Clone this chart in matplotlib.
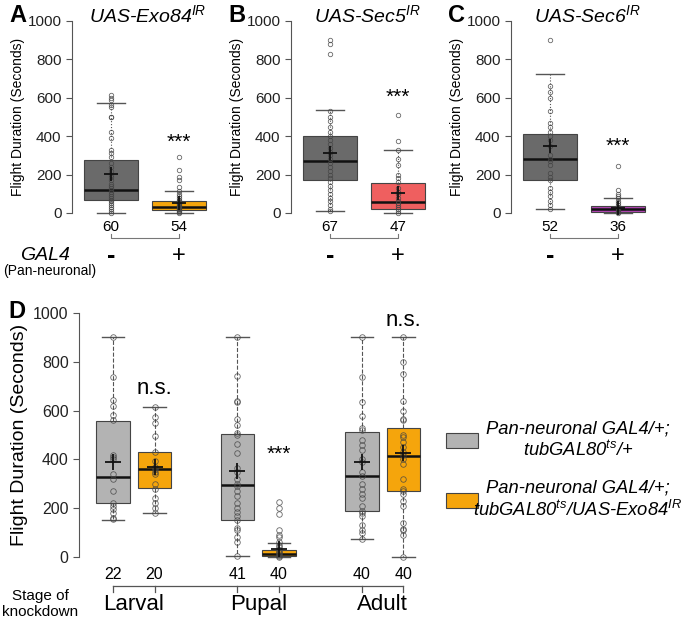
import matplotlib
matplotlib.use("Agg")
import matplotlib.pyplot as plt
from matplotlib.patches import Rectangle

plt.rcParams['font.family'] = ['Liberation Sans', 'DejaVu Sans']
plt.rcParams['mathtext.fontset'] = 'custom'
plt.rcParams['mathtext.it'] = 'Liberation Sans:italic'
plt.rcParams['mathtext.rm'] = 'Liberation Sans'

# ---------------- data ----------------
# Panels A-C: (-) control, (+) knockdown; box stats: q1, med, q3, whislo, whishi, mean
titles_abc = ["UAS-Exo84$^{IR}$", "UAS-Sec5$^{IR}$", "UAS-Sec6$^{IR}$"]
letters_abc = ["A", "B", "C"]
counts_abc = [[60, 54], [67, 47], [52, 36]]
colors_abc = ["#f5a50c", "#ef5f5f", "#b144b4"]
ctrl_color = "#6a6a6a"
sig_abc = ["***", "***", "***"]
sig_y_abc = [370, 600, 345]

stats_A = [dict(q1=69, med=119, q3=275, whislo=0, whishi=575, mean=203),
           dict(q1=14, med=33, q3=60, whislo=0, whishi=117, mean=53)]
stats_B = [dict(q1=171, med=269, q3=401, whislo=9, whishi=538, mean=311),
           dict(q1=19, med=58, q3=154, whislo=0, whishi=326, mean=106)]
stats_C = [dict(q1=174, med=282, q3=414, whislo=19, whishi=723, mean=348),
           dict(q1=7, med=21, q3=35, whislo=0, whishi=80, mean=26)]

pts_A = [[615, 600, 590, 560, 550, 500, 500, 420, 390, 330, 310, 290, 260, 240, 220,
          200, 185, 170, 150, 140, 130, 120, 110, 100, 90, 80, 70, 60, 50, 40, 30, 20, 10, 0],
         [293, 222, 187, 170, 135, 117, 100, 90, 80, 70, 60, 55, 50, 45, 40, 35, 30, 25,
          20, 15, 10, 5, 0]]
pts_B = [[900, 880, 830, 530, 500, 480, 450, 420, 400, 380, 360, 340, 320, 300, 280,
          260, 240, 220, 200, 180, 160, 140, 120, 100, 80, 60, 40, 20, 9],
         [508, 377, 326, 280, 250, 200, 180, 160, 130, 110, 100, 80, 60, 50, 40, 30, 20,
          10, 0]]
pts_C = [[900, 660, 630, 600, 530, 470, 450, 420, 400, 380, 350, 300, 280, 270, 250,
          210, 190, 170, 130, 110, 90, 60, 40, 19],
         [243, 120, 100, 90, 80, 60, 50, 40, 30, 20, 10, 5, 0]]

# Panel D
stages = ["Larval", "Pupal", "Adult"]
counts_D = [22, 20, 41, 40, 40, 40]
colors_D = ["#b3b3b3", "#f5a50c"] * 3
stats_D = [dict(q1=223, med=326, q3=559, whislo=153, whishi=900, mean=388),
           dict(q1=284, med=359, q3=432, whislo=182, whishi=614, mean=370),
           dict(q1=153, med=297, q3=505, whislo=4, whishi=900, mean=351),
           dict(q1=3, med=11, q3=30, whislo=0, whishi=59, mean=32),
           dict(q1=189, med=331, q3=514, whislo=75, whishi=900, mean=388),
           dict(q1=271, med=412, q3=530, whislo=0, whishi=900, mean=427)]
pts_D = [[900, 737, 644, 620, 580, 560, 420, 410, 400, 340, 320, 270, 220, 210, 195,
          180, 160, 155],
         [614, 575, 550, 495, 430, 395, 370, 360, 350, 340, 300, 280, 240, 220, 200, 182],
         [900, 742, 640, 635, 565, 540, 510, 500, 465, 425, 365, 350, 320, 300, 290, 270,
          250, 220, 200, 185, 170, 150, 120, 110, 80, 60, 5],
         [225, 200, 175, 110, 90, 80, 60, 50, 40, 30, 20, 15, 10, 5, 0],
         [900, 737, 637, 578, 530, 520, 480, 460, 440, 400, 390, 350, 330, 300, 280, 260,
          240, 210, 190, 180, 170, 130, 110, 100, 75],
         [900, 800, 750, 640, 600, 565, 560, 500, 490, 470, 450, 430, 420, 400, 380, 320,
          280, 270, 260, 230, 210, 140, 115, 110, 90, 0]]
sig_D = ["n.s.", "***", "n.s."]
sig_y_D = [692, 422, 971]
legend_labels = ["Pan-neuronal GAL4/+;\ntubGAL80$^{ts}$/+",
                 "Pan-neuronal GAL4/+;\ntubGAL80$^{ts}$/UAS-Exo84$^{IR}$"]

W, H = 682, 620
fig = plt.figure(figsize=(W / 100, H / 100), dpi=100)


def add_axes_px(left_px, y1000_px, y0_px, xlim, ylim=(-40, 1040), right_px=None):
    ppu = (y0_px - y1000_px) / 1000.0
    top = y1000_px - (ylim[1] - 1000) * ppu
    bottom = y0_px + (0 - ylim[0]) * ppu
    ax = fig.add_axes([left_px / W, 1 - bottom / H, (right_px - left_px) / W,
                       (bottom - top) / H])
    ax.set_xlim(*xlim)
    ax.set_ylim(*ylim)
    for s in ["top", "right", "bottom"]:
        ax.spines[s].set_visible(False)
    ax.spines["left"].set_bounds(0, 1000)
    ax.spines["left"].set_color("#555555")
    ax.set_xticks([])
    ax.set_yticks([0, 200, 400, 600, 800, 1000])
    ax.tick_params(axis="y", colors="#555555", labelcolor="#222222", length=4)
    return ax


def draw_boxes(ax, stats, positions, colors, pts, width, lw, capw, ms, whisk_ls):
    for s, p, c, pp in zip(stats, positions, colors, pts):
        st = dict(s)
        st.setdefault("fliers", [])
        ax.bxp([st], positions=[p], widths=width, patch_artist=True, showfliers=False,
               showmeans=False, capwidths=capw, manage_ticks=False,
               boxprops=dict(facecolor=c, edgecolor="#444444", linewidth=0.8),
               medianprops=dict(color="#111111", linewidth=lw),
               whiskerprops=dict(color="#555555", linestyle=whisk_ls, linewidth=0.8),
               capprops=dict(color="#555555", linewidth=1.0))
        ax.plot([p] * len(pp), pp, "o", mfc="none", mec="#444444", mew=0.6, ms=ms,
                alpha=0.8, zorder=4)
        ax.plot([p], [s["mean"]], marker="+", color="#111111", ms=ms * 3, mew=1.3,
                zorder=5)


# ---------------- panels A-C ----------------
lefts = [72, 291, 511]
xl = (1 - 39 / 68, 2 + 41 / 68)
all_stats = [stats_A, stats_B, stats_C]
all_pts = [pts_A, pts_B, pts_C]
for i in range(3):
    width_px = (xl[1] - xl[0]) * 68
    ax = add_axes_px(lefts[i], 21, 213, xl, right_px=lefts[i] + width_px)
    draw_boxes(ax, all_stats[i], [1, 2], [ctrl_color, colors_abc[i]], all_pts[i],
               0.8, 1.8, 0.42, 3.2, ":")
    ax.tick_params(axis="y", labelsize=11)
    ax.set_ylabel("Flight Duration (Seconds)", fontsize=10, labelpad=2)
    fig.text((lefts[i] + width_px / 2 + 2) / W, 1 - 15 / H, titles_abc[i], fontsize=14,
             style="italic", ha="center", va="center")
    ax.text(2, sig_y_abc[i], sig_abc[i], ha="center", va="center", fontsize=15)
    for j, n in enumerate(counts_abc[i]):
        ax.text(j + 1, -75, str(n), ha="center", va="center", fontsize=11, clip_on=False)
    ax.plot([1, 1, 2, 2], [-110, -130, -130, -110], color="#777777", lw=0.8, clip_on=False)
    ax.text(1, -225, "-", ha="center", va="center", fontsize=18, fontweight="bold",
            clip_on=False)
    ax.text(2, -225, "+", ha="center", va="center", fontsize=17, clip_on=False)
    fig.text((lefts[i] - 63) / W, 1 - 15 / H, letters_abc[i], fontsize=17,
             fontweight="bold", va="center", ha="left")

fig.text(20 / W, 1 - 256 / H, "GAL4", fontsize=14, style="italic", va="center", ha="left")
fig.text(3 / W, 1 - 271 / H, "(Pan-neuronal)", fontsize=10, va="center", ha="left")

# ---------------- panel D ----------------
posD = [1, 2, 4, 5, 7, 8]
ppuD = 41.5
xlD = (1 - 34 / ppuD, 8 + 34 / ppuD)
axD = add_axes_px(79, 313, 557, xlD, right_px=79 + (xlD[1] - xlD[0]) * ppuD)
draw_boxes(axD, stats_D, posD, colors_D, pts_D, 0.8, 1.8, 0.55, 4.0, "--")
axD.tick_params(axis="y", labelsize=11.5)
axD.set_ylabel("Flight Duration (Seconds)", fontsize=14, labelpad=4)
for p, n in zip(posD, counts_D):
    axD.text(p, -70, str(n), ha="center", va="center", fontsize=11.5, clip_on=False)
axD.plot([1, 8], [-119, -119], color="#555555", lw=0.9, clip_on=False)
for p in posD:
    axD.plot([p, p], [-119, -143], color="#555555", lw=0.9, clip_on=False)
for k, st in enumerate(stages):
    axD.text(posD[2 * k] + 0.5, -196, st, ha="center", va="center", fontsize=16,
             clip_on=False)
for k in range(3):
    axD.text(posD[2 * k + 1], sig_y_D[k], sig_D[k], ha="center", va="center",
             fontsize=16 if sig_D[k] == "n.s." else 15)
fig.text(40 / W, 1 - 604 / H, "Stage of\nknockdown", fontsize=11, ha="center",
         va="center", linespacing=1.15)
fig.text(8 / W, 1 - 312 / H, "D", fontsize=17, fontweight="bold", va="center", ha="left")

# legend
for k, (lab, c) in enumerate(zip(legend_labels, ["#b3b3b3", "#f5a50c"])):
    yc = [440, 500][k]
    fig.patches.append(Rectangle((446 / W, 1 - (yc + 7.5) / H), 32 / W, 15 / H,
                                 transform=fig.transFigure, facecolor=c,
                                 edgecolor="#444444", lw=0.8))
    fig.text(578 / W, 1 - yc / H, lab, fontsize=13.2, style="italic", ha="center",
             va="center", linespacing=1.2)

fig.savefig("out.png", dpi=100)
